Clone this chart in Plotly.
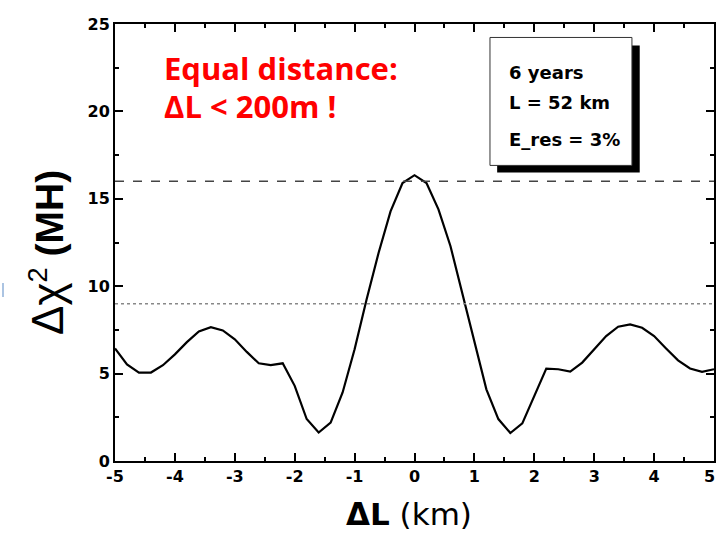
import plotly.graph_objects as go

dL_km = [-5.0, -4.8, -4.6, -4.4, -4.2, -4.0, -3.8, -3.6, -3.4, -3.2, -3.0, -2.8, -2.6, -2.4, -2.2, -2.0,
         -1.8, -1.6, -1.4, -1.2, -1.0, -0.8, -0.6, -0.4, -0.2, 0.0, 0.2, 0.4, 0.6, 0.8, 1.0,
         1.2, 1.4, 1.6, 1.8, 2.0, 2.2, 2.4, 2.6, 2.8, 3.0, 3.2, 3.4, 3.6, 3.8, 4.0, 4.2, 4.4, 4.6, 4.8, 5.0]
dchi2_MH = [6.44, 5.53, 5.06, 5.06, 5.48, 6.1, 6.8, 7.41, 7.66, 7.47, 6.96, 6.24, 5.59, 5.49, 5.59, 4.3,
            2.4, 1.63, 2.2, 3.92, 6.39, 9.24, 11.9, 14.28, 15.9, 16.35, 15.9, 14.4, 12.3, 9.6, 6.77,
            4.1, 2.4, 1.6, 2.15, 3.73, 5.29, 5.25, 5.11, 5.63, 6.39, 7.15, 7.68, 7.81, 7.62, 7.15,
            6.44, 5.76, 5.29, 5.1, 5.25]

level_3sigma = 9
level_4sigma = 16
x_ticks = [-5, -4, -3, -2, -1, 0, 1, 2, 3, 4, 5]
y_ticks = [0, 5, 10, 15, 20, 25]
box_lines = ["6 years", "L = 52 km", "E_res = 3%"]
red_lines = ["Equal distance:", "ΔL < 200m !"]

fig = go.Figure()
fig.add_trace(go.Scatter(x=dL_km, y=dchi2_MH, mode="lines",
                         line=dict(color="black", width=2.2), showlegend=False))

fig.add_hline(y=level_4sigma, line=dict(color="#444444", width=1.6, dash="dash"))
fig.add_hline(y=level_3sigma, line=dict(color="#888888", width=1.6, dash="dot"))

# box with shadow (data coordinates)
fig.add_shape(type="rect", xref="x", yref="y", x0=1.38, x1=3.76, y0=16.5, y1=23.77,
              fillcolor="black", line=dict(width=0), layer="above")
fig.add_shape(type="rect", xref="x", yref="y", x0=1.26, x1=3.63, y0=16.91, y1=24.23,
              fillcolor="white", line=dict(color="#333333", width=1), layer="above")

box_y = [22.23, 20.51, 18.4]
for t, yy in zip(box_lines, box_y):
    fig.add_annotation(x=1.55, y=yy, xref="x", yref="y", text="<b>" + t + "</b>", showarrow=False,
                       xanchor="left", yanchor="middle",
                       font=dict(family="DejaVu Sans", size=18, color="black"))

red_y = [22.5, 20.3]
for t, yy in zip(red_lines, red_y):
    fig.add_annotation(x=-4.22, y=yy, xref="x", yref="y", text="<b>" + t + "</b>", showarrow=False,
                       xanchor="left", yanchor="middle",
                       font=dict(family="Open Sans", size=31, color="#ff0000"))

# axis titles
fig.add_annotation(x=(47 - 115) / 599, y=(461 - 253) / 437, xref="paper", yref="paper",
                   text="<span style='font-size:44px'>Δχ</span><sup>2</sup> <b>(MH)</b>",
                   showarrow=False, textangle=-90, xanchor="center", yanchor="middle",
                   font=dict(family="Liberation Sans", size=39, color="black"))
fig.add_annotation(x=(409 - 115) / 599, y=(461 - 514) / 437, xref="paper", yref="paper",
                   text="<b>ΔL</b> (km)", showarrow=False, xanchor="center", yanchor="middle",
                   font=dict(family="DejaVu Sans", size=31, color="black"))

# last x tick label, kept just inside the window edge
fig.add_annotation(x=(717 - 115) / 599, y=0, xref="paper", yref="paper", text="<b>%d</b>" % x_ticks[-1],
                   showarrow=False, xanchor="right", yanchor="top", yshift=-4,
                   font=dict(family="DejaVu Sans", size=16, color="black"))

# small blue artifact at left edge
fig.add_shape(type="line", xref="paper", yref="paper",
              x0=(3 - 115) / 599, x1=(3 - 115) / 599, y0=(461 - 297) / 437, y1=(461 - 283) / 437,
              line=dict(color="#8fb0d8", width=1.5))

axis_common = dict(showline=True, linecolor="black", linewidth=2, mirror="ticks",
                   ticks="inside", ticklen=8, tickwidth=1.5, tickcolor="black",
                   showgrid=False, zeroline=False, automargin=False,
                   tickfont=dict(family="DejaVu Sans", size=16, color="black"))

fig.update_xaxes(range=[-5, 5], tickvals=x_ticks, ticktext=["<b>%d</b>" % v for v in x_ticks],
                 minor=dict(ticks="inside", ticklen=4, dtick=0.5, tickcolor="black", tickwidth=1.5),
                 **axis_common)
fig.update_yaxes(range=[0, 25], tickvals=y_ticks, ticktext=["<b>%d</b>" % v for v in y_ticks],
                 minor=dict(ticks="inside", ticklen=4, dtick=2.5, tickcolor="black", tickwidth=1.5),
                 **axis_common)

fig.update_layout(width=717, height=533, margin=dict(l=115, r=3, t=24, b=72),
                  plot_bgcolor="white", paper_bgcolor="white")

fig.write_html("out.html")
